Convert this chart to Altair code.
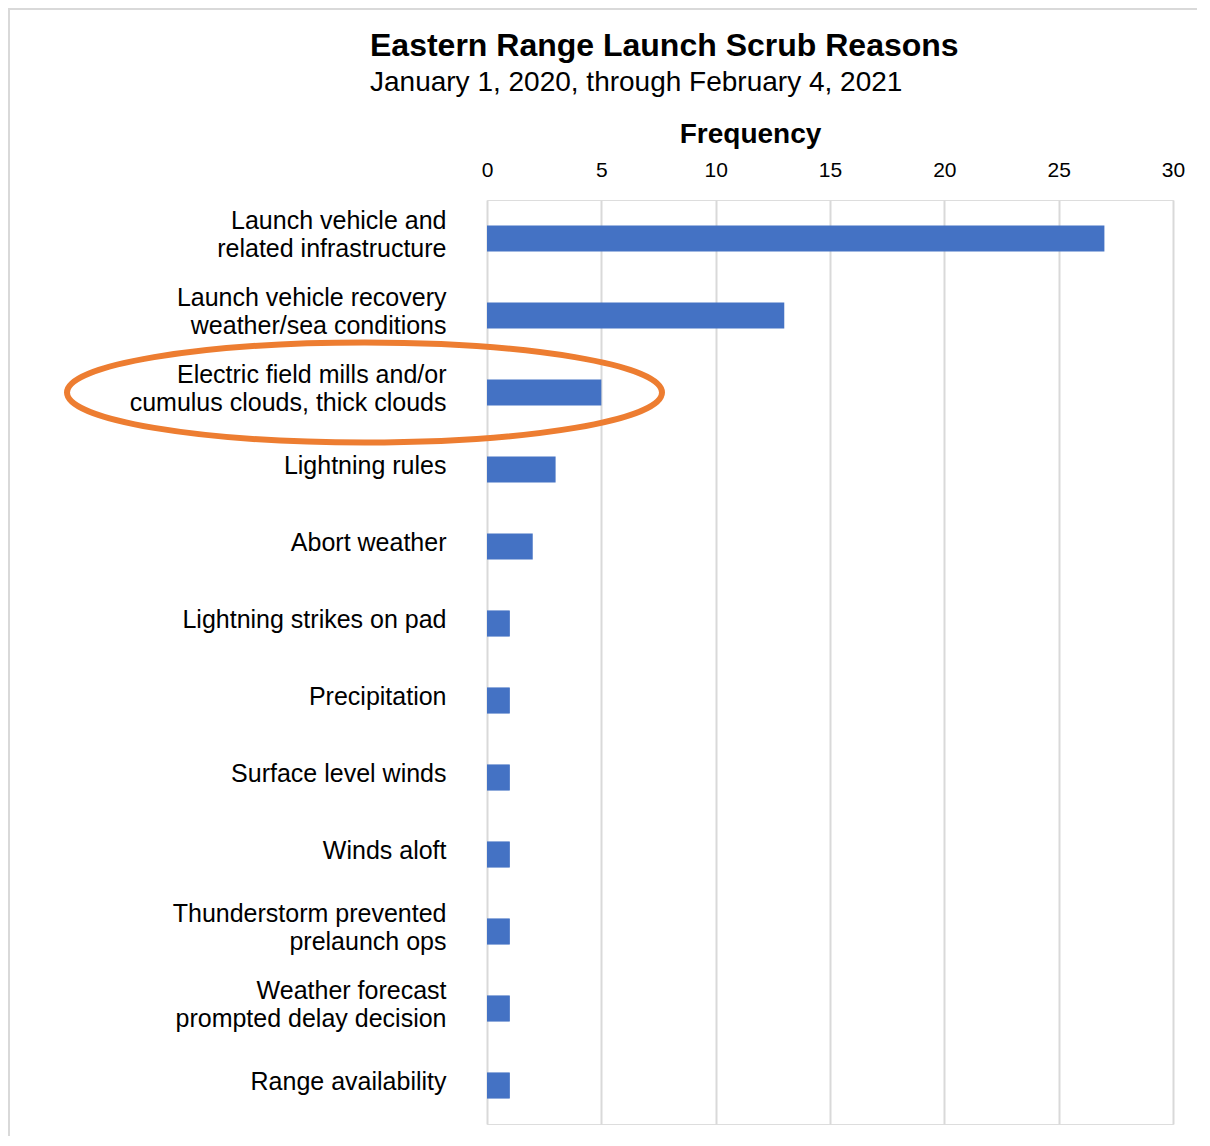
import altair as alt
import pandas as pd

categories = [
    "Launch vehicle and\nrelated infrastructure",
    "Launch vehicle recovery\nweather/sea conditions",
    "Electric field mills and/or\ncumulus clouds, thick clouds",
    "Lightning rules",
    "Abort weather",
    "Lightning strikes on pad",
    "Precipitation",
    "Surface level winds",
    "Winds aloft",
    "Thunderstorm prevented\nprelaunch ops",
    "Weather forecast\nprompted delay decision",
    "Range availability",
]
frequency = [27, 13, 5, 3, 2, 1, 1, 1, 1, 1, 1, 1]
highlighted = [categories[2]]
x_ticks = [0, 5, 10, 15, 20, 25, 30]

df = pd.DataFrame({"reason": categories, "frequency": frequency})
hl = pd.DataFrame({"reason": highlighted})

W, H = 686, 924
FONT = "Liberation Sans"

y_enc = alt.Y(
    "reason:N",
    sort=categories,
    scale=alt.Scale(paddingInner=0.66, paddingOuter=0.33),
    axis=alt.Axis(
        title=None,
        ticks=False,
        domain=False,
        grid=False,
        labelPadding=41,
        labelFont=FONT,
        labelFontSize=25,
        labelColor="#000000",
        labelLineHeight=28,
        labelLimit=0,
        labelOffset={
            "condition": {"test": "indexof(datum.value, '\\n') >= 0", "value": -18},
            "value": -4,
        },
        labelExpr="split(datum.value, '\\n')",
    ),
)

bars = alt.Chart(df).mark_bar(color="#4472C4").encode(
    x=alt.X(
        "frequency:Q",
        scale=alt.Scale(domain=[0, 30], nice=False),
        axis=alt.Axis(
            orient="top",
            values=x_ticks,
            title="Frequency",
            titleFont=FONT,
            titleFontSize=28,
            titleFontWeight="bold",
            titleColor="#000000",
            titleX=263,
            titleY=-58,
            titleBaseline="alphabetic",
            titleAlign="center",
            ticks=False,
            domain=False,
            labelFlush=False,
            labelPadding=20,
            labelFont=FONT,
            labelFontSize=21,
            labelColor="#000000",
            grid=True,
            gridColor="#d9d9d9",
            gridWidth=2,
        ),
    ),
    y=y_enc,
)

ellipse = alt.Chart(hl).mark_point(
    shape="M -1 0 A 1 0.168 0 1 1 1 0 A 1 0.168 0 1 1 -1 0 Z",
    size=595 ** 2,
    filled=False,
    stroke="#ED7D31",
    strokeWidth=6,
    opacity=1,
).encode(
    x=alt.value(-122.5),
    y=alt.Y("reason:N", sort=categories),
)

border_top = alt.Chart(hl).mark_rule(color="#d9d9d9", strokeWidth=2).encode(
    x=alt.value(-479), x2=alt.value(710), y=alt.value(-191)
)
border_left = alt.Chart(hl).mark_rule(color="#d9d9d9", strokeWidth=2).encode(
    x=alt.value(-478), y=alt.value(-191), y2=alt.value(940)
)

chart = (
    alt.layer(bars, ellipse, border_top, border_left)
    .properties(
        width=W,
        height=H,
        autosize=alt.AutoSizeParams(type="none"),
        padding={"left": 479, "top": 192, "right": 24, "bottom": 12},
        title=alt.TitleParams(
            text="Eastern Range Launch Scrub Reasons",
            subtitle="January 1, 2020, through February 4, 2021",
            font=FONT,
            fontSize=32,
            fontWeight="bold",
            color="#000000",
            subtitleFont=FONT,
            subtitleFontSize=28,
            subtitleColor="#000000",
            subtitlePadding=6,
            anchor="start",
            frame="group",
            dx=-117,
            offset=-90,
        ),
    )
    .configure_view(stroke="transparent", strokeWidth=0, fill="white")
    .configure_axis(domain=False)
    .configure(background="white")
)

chart.save("out.html", embed_options={"renderer": "svg", "actions": False})
